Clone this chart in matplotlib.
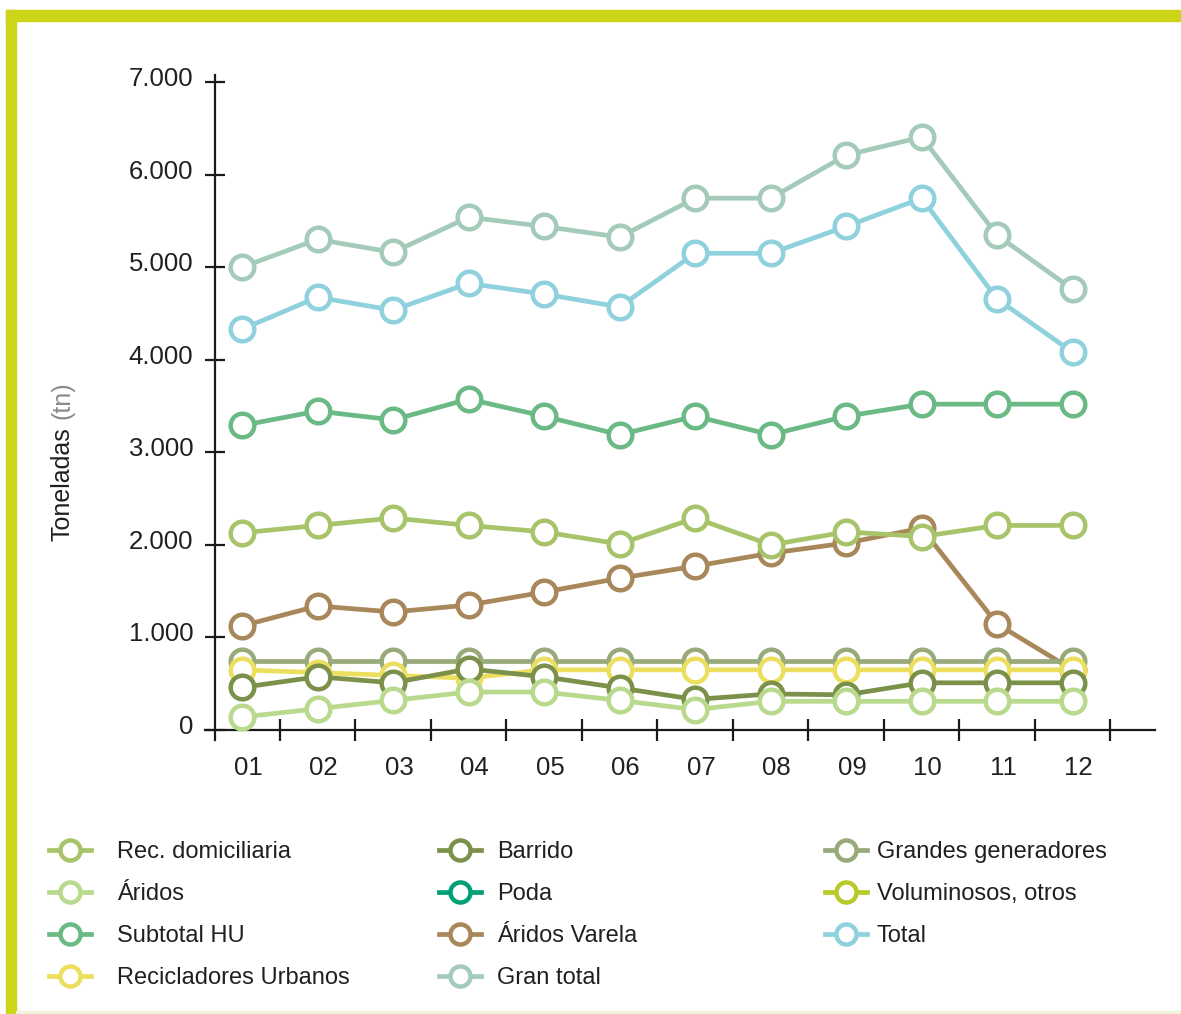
import numpy as np
import matplotlib
matplotlib.use('Agg')
import matplotlib.pyplot as plt
import matplotlib.patches as mpatches
import matplotlib.transforms as mtransforms
from matplotlib.ticker import FuncFormatter, FixedLocator

plt.rcParams['font.family'] = ['Liberation Sans', 'DejaVu Sans']

meses = ['01', '02', '03', '04', '05', '06', '07', '08', '09', '10', '11', '12']

rec_domiciliaria = [2130, 2210, 2290, 2210, 2140, 2010, 2290, 2000, 2140, 2090, 2210, 2210]
aridos = [140, 230, 320, 410, 410, 320, 220, 310, 310, 310, 310, 310]
subtotal_hu = [3290, 3445, 3350, 3575, 3390, 3190, 3390, 3190, 3390, 3520, 3520, 3520]
recicladores = [650, 620, 590, 560, 650, 650, 650, 650, 650, 650, 650, 650]
barrido = [460, 575, 510, 660, 575, 455, 330, 390, 380, 510, 510, 510]
poda = [np.nan] * 12
aridos_varela = [1125, 1340, 1275, 1350, 1490, 1640, 1770, 1910, 2020, 2180, 1145, 650]
gran_total = [5000, 5300, 5160, 5540, 5440, 5325, 5745, 5745, 6210, 6405, 5345, 4760]
grandes_generadores = [745] * 12
voluminosos = [np.nan] * 12
total = [4330, 4675, 4535, 4825, 4710, 4570, 5150, 5150, 5440, 5745, 4655, 4080]

# nombre, datos, color, orden de dibujo
series = [
    ('Rec. domiciliaria', rec_domiciliaria, '#a7c46a', 7),
    ('Áridos', aridos, '#b9d98d', 6),
    ('Subtotal HU', subtotal_hu, '#6bba86', 8),
    ('Recicladores Urbanos', recicladores, '#ecdf5f', 4),
    ('Barrido', barrido, '#7b914a', 5),
    ('Poda', poda, '#00a077', 2),
    ('Áridos Varela', aridos_varela, '#a8875a', 3),
    ('Gran total', gran_total, '#a4cbb9', 8),
    ('Grandes generadores', grandes_generadores, '#98aa7a', 3.5),
    ('Voluminosos, otros', voluminosos, '#b8c92a', 2),
    ('Total', total, '#8fd1dd', 8),
]

W, H = 1181, 1014
fig = plt.figure(figsize=(W / 100, H / 100), dpi=100)

# marco verde
frame = '#cdd518'
fig.patches.append(mpatches.Rectangle((6 / W, 0), 10 / W, 1 - 10 / H, transform=fig.transFigure,
                                      color=frame, zorder=0))
fig.patches.append(mpatches.Rectangle((6 / W, 1 - 21 / H), 1, 11 / H, transform=fig.transFigure,
                                      color=frame, zorder=0))
fig.patches.append(mpatches.Rectangle((16 / W, 1 / H), 1, 2 / H, transform=fig.transFigure,
                                      color='#eef3d8', zorder=0))

ax = fig.add_axes([205 / W, (H - 740) / H, 950 / W, 665 / H])
x = np.arange(len(meses))
handles = []
for nombre, vals, color, z in series:
    ln, = ax.plot(x, vals, color=color, lw=3.4, marker='o', markersize=17,
                  markerfacecolor='white', markeredgecolor=color, markeredgewidth=3.2,
                  label=nombre, zorder=z, clip_on=False)
    handles.append(ln)

ax.set_xlim(-0.49, 12.09)
ax.set_ylim(-108, 7076)
for s in ['top', 'right']:
    ax.spines[s].set_visible(False)
ax.spines['left'].set_position(('data', -0.36))
ax.spines['bottom'].set_position(('data', 0))
for s in ['left', 'bottom']:
    ax.spines[s].set_linewidth(1.6)
    ax.spines[s].set_color('#1a1a1a')

ax.set_yticks(np.arange(0, 7001, 1000))
ax.yaxis.set_major_formatter(FuncFormatter(lambda v, p: f'{int(v):,}'.replace(',', '.')))
ax.tick_params(axis='y', direction='inout', length=15, width=1.6, color='#1a1a1a',
               labelsize=18.5, labelcolor='#231f20', pad=8)
offset = mtransforms.ScaledTranslation(0, 4 / 72, fig.dpi_scale_trans)
for lbl in ax.get_yticklabels():
    lbl.set_transform(lbl.get_transform() + offset)

ax.xaxis.set_major_locator(FixedLocator(x + 0.5))
ax.xaxis.set_major_formatter(FuncFormatter(lambda v, p: ''))
ax.xaxis.set_minor_locator(FixedLocator(x + 0.08))
ax.set_xticklabels(meses, minor=True)
ax.tick_params(axis='x', which='major', direction='inout', length=16, width=1.6, color='#1a1a1a')
ax.tick_params(axis='x', which='minor', length=0, labelsize=18.5, labelcolor='#231f20', pad=19)

fig.text(63 / W, 1 - 541 / H, 'Toneladas', rotation=90, fontsize=18, color='#231f20',
         ha='center', va='bottom')
fig.text(63 / W, 1 - 419 / H, '(tn)', rotation=90, fontsize=18, color='#8a8a8a',
         ha='center', va='bottom')

cols = [(handles[0:4], 49, 1.1), (handles[4:8], 439, 0.68), (handles[8:11], 825, 0.42)]
for hs, xpx, tpad in cols:
    leg = fig.legend(handles=hs, loc='upper left', bbox_to_anchor=(xpx / W, 1 - 841 / H),
                     frameon=False, fontsize=17, handlelength=1.78, handletextpad=tpad,
                     labelspacing=0.85, borderpad=0, borderaxespad=0, markerscale=0.85)
    for t in leg.get_texts():
        t.set_color('#231f20')

fig.savefig('out.png', dpi=100)
